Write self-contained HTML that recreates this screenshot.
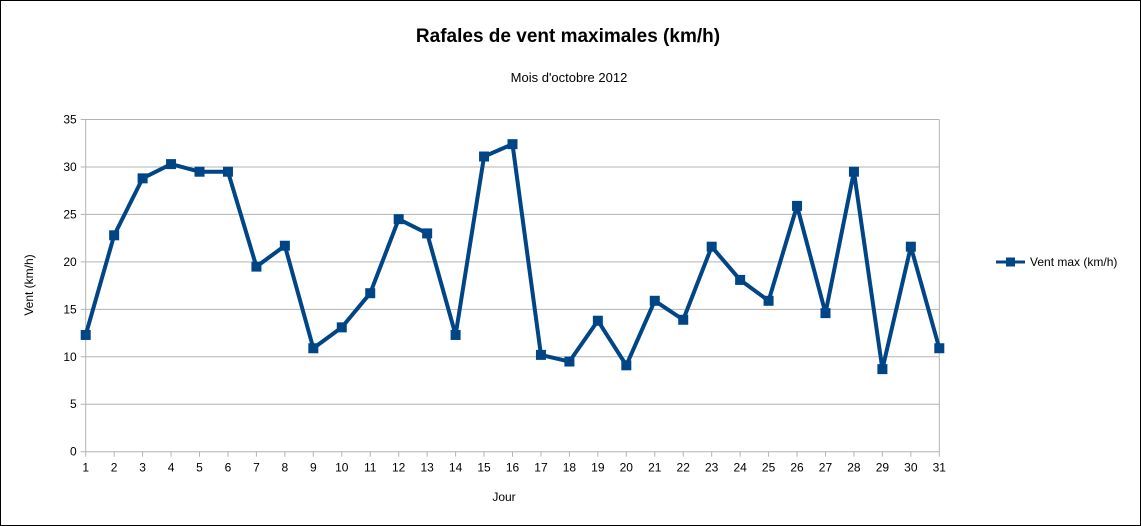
<!DOCTYPE html>
<html><head><meta charset="utf-8"><style>
html,body{margin:0;padding:0;background:#fff}
svg{display:block;font-family:"Liberation Sans",sans-serif}
</style></head><body>
<svg id="chart" width="1141" height="526" viewBox="0 0 1141 526">
<rect x="0.5" y="0.5" width="1140" height="525" fill="#fff" stroke="#000"/>
<text x="568" y="42" text-anchor="middle" font-size="19" font-weight="bold" fill="#000">Rafales de vent maximales (km/h)</text>
<text x="569" y="82" text-anchor="middle" font-size="13" fill="#000">Mois d'octobre 2012</text>
<text x="0" y="0" transform="translate(33,285) rotate(-90)" text-anchor="middle" font-size="12" fill="#000">Vent (km/h)</text>
<text x="504" y="501" text-anchor="middle" font-size="12" fill="#000">Jour</text>
<g id="grid"></g><g id="axes"></g><g id="series"></g>
<g>
<line x1="996" y1="262" x2="1025" y2="262" stroke="#004586" stroke-width="3"/>
<rect x="1006" y="257.5" width="9" height="9" fill="#004586"/>
<text x="1030" y="266" font-size="12" fill="#000">Vent max (km/h)</text>
</g>
</svg>
<script>
const days = [1,2,3,4,5,6,7,8,9,10,11,12,13,14,15,16,17,18,19,20,21,22,23,24,25,26,27,28,29,30,31];
const values = [12.3,22.8,28.8,30.3,29.5,29.5,19.5,21.7,10.9,13.1,16.7,24.5,23.0,12.3,31.1,32.4,10.2,9.5,13.8,9.1,15.9,13.9,21.6,18.1,15.9,25.9,14.6,29.5,8.7,21.6,10.9];
const yTicks = [0,5,10,15,20,25,30,35];
const NS="http://www.w3.org/2000/svg";
const x0=85.7,x1=939.3,y0=451.7,y1=119.5;
const xs=d=>x0+(d-1)*(x1-x0)/30;
const ys=v=>y0-v*(y0-y1)/35;
const grid=document.getElementById('grid'),axes=document.getElementById('axes'),ser=document.getElementById('series');
function mk(t,a,p){const e=document.createElementNS(NS,t);for(const k in a)e.setAttribute(k,a[k]);p.appendChild(e);return e;}
yTicks.forEach(v=>{
 const g=mk('line',{x1:x0-5,x2:x1,y1:ys(v),y2:ys(v),stroke:'#b3b3b3','stroke-width':1},grid);
 
 
 const t=mk('text',{x:x0-9,y:ys(v)+4,'text-anchor':'end','font-size':12,fill:'#000'},axes);
 t.textContent=v;
 
 
});
mk('line',{x1:x0,x2:x0,y1:y1,y2:y0,stroke:'#b3b3b3'},axes);
mk('line',{x1:x1,x2:x1,y1:y1,y2:y0,stroke:'#b3b3b3'},axes);
days.forEach(d=>{
 mk('line',{x1:xs(d),x2:xs(d),y1:y0,y2:y0+5,stroke:'#b3b3b3'},axes);
 const t=mk('text',{x:xs(d),y:y0+20,'text-anchor':'middle','font-size':12,fill:'#000'},axes);
 t.textContent=d;
 
 
});
const pl=mk('polyline',{points:days.map((d,i)=>xs(d)+','+ys(values[i])).join(' '),fill:'none',stroke:'#004586','stroke-width':4,'stroke-linejoin':'round'},ser);


days.forEach((d,i)=>{
 const r=mk('rect',{x:xs(d)-5,y:ys(values[i])-5,width:10,height:10,fill:'#004586'},ser);
 
 
});
</script>
</body></html>
